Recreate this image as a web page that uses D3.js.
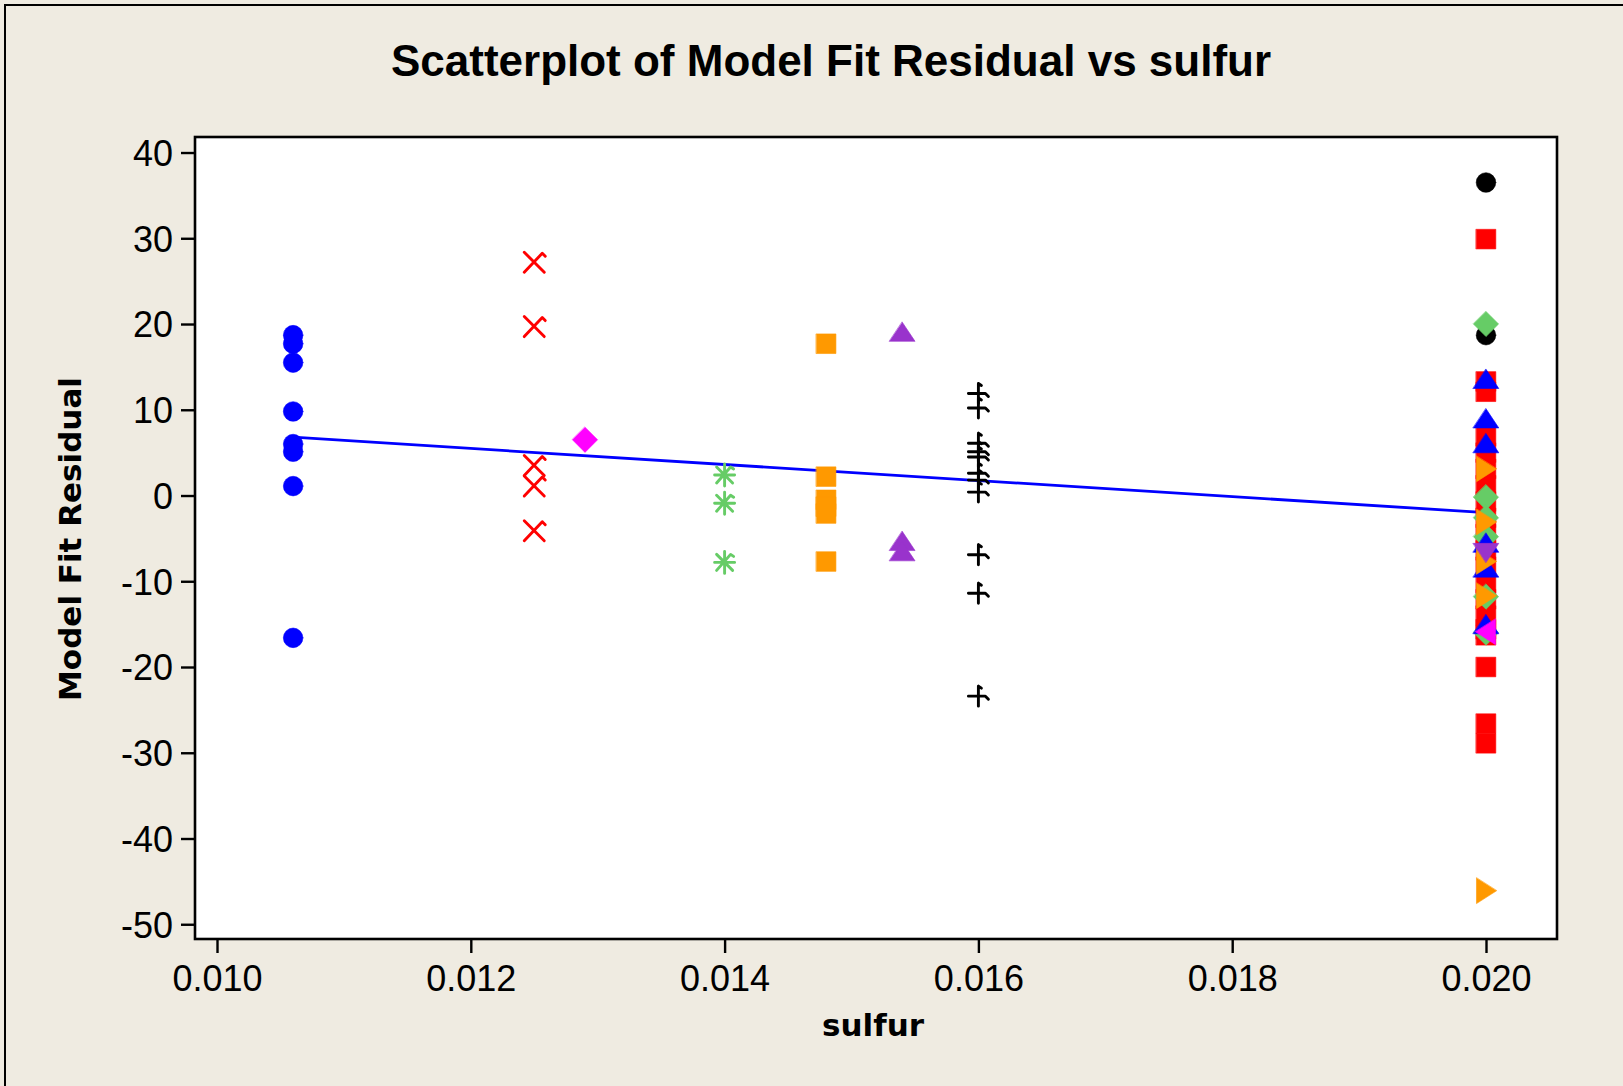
<!DOCTYPE html>
<html>
<head>
<meta charset="utf-8">
<script src="https://cdn.jsdelivr.net/npm/d3@7"></script>
<style>
  html, body { margin: 0; padding: 0; background: #EFEBE1; }
  svg { display: block; }
</style>
</head>
<body>
<svg id="chart" width="1623" height="1086"></svg>
<script>
// ---- data -------------------------------------------------------------
const xTicks = [0.010, 0.012, 0.014, 0.016, 0.018, 0.020];
const yTicks = [40, 30, 20, 10, 0, -10, -20, -30, -40, -50];

// one entry per plotted group: sulfur level, symbol, colour
const groupSulfur = [0.0106, 0.0125, 0.0129, 0.0140, 0.0148, 0.0154, 0.0160,
                     0.0200, 0.0200, 0.0200, 0.0200, 0.0200, 0.0200, 0.0200];
const groupSymbol = ["circle", "cross", "diamond", "asterisk", "square", "triangleUp", "plus",
                     "circle", "square", "diamond", "triangleUp", "triangleRight", "triangleDown", "triangleLeft"];
const groupColor  = ["#0000FF", "#FF0000", "#FF00FF", "#66CC66", "#FF9900", "#9933CC", "#000000",
                     "#000000", "#FF0000", "#66CC66", "#0000FF", "#FF9900", "#9933CC", "#FF00FF"];

// residuals per group
const resBlueCircle     = [18.7, 17.7, 15.5, 9.8, 6.0, 5.1, 1.1, -16.6];
const resRedCross       = [27.2, 19.7, 3.5, 1.1, -4.1];
const resMagentaDiamond = [6.5];
const resGreenAsterisk  = [2.4, -0.9, -7.8];
const resOrangeSquare   = [17.7, 2.2, -0.5, -1.3, -2.1, -7.7];
const resPurpleTriangle = [19.1, -5.3, -6.5];
const resBlackPlus      = [11.9, 10.2, 6.1, 5.1, 4.5, 2.6, 1.8, 0.4, -6.9, -11.4, -23.4];
const resBlackCircle    = [36.5, 18.7];
const resRedSquare      = [29.9, 13.3, 12.1, 6.9, 5.0, 3.1, 1.2, -0.7, -2.6, -4.5, -6.4,
                           -8.3, -10.2, -12.1, -14.0, -15.6, -16.3, -20.0, -26.6, -28.9];
const resGreenDiamond   = [20.0, -0.2, -2.6, -4.8, -11.8, -16.0];
const resBlueTriangle   = [13.6, 9.0, 6.1, -5.5, -8.4, -15.0];
const resOrangeRight    = [3.1, -3.1, -7.7, -11.7, -46.1];
const resPurpleDown     = [-6.7];
const resMagentaLeft    = [-15.9];

const groupResiduals = [resBlueCircle, resRedCross, resMagentaDiamond, resGreenAsterisk,
                        resOrangeSquare, resPurpleTriangle, resBlackPlus, resBlackCircle,
                        resRedSquare, resGreenDiamond, resBlueTriangle, resOrangeRight,
                        resPurpleDown, resMagentaLeft];

// fitted line of residual on sulfur
const fitSulfur   = [0.0106, 0.0200];
const fitResidual = [6.8, -2.0];

// ---- layout -----------------------------------------------------------
const W = 1623, H = 1086;
const plot = { left: 195, right: 1557, top: 137, bottom: 939 };

const x = d3.scaleLinear().domain([0.0098266, 0.0205595]).range([plot.left, plot.right]);
const y = d3.scaleLinear().domain([-51.72, 41.81]).range([plot.bottom, plot.top]);

const svg = d3.select("#chart");

// page background with thin border
svg.append("rect").attr("x", 0).attr("y", 0).attr("width", W).attr("height", H).attr("fill", "#EFEBE1");
svg.append("rect").attr("x", 5).attr("y", 5).attr("width", W + 50).attr("height", H + 50)
  .attr("fill", "#EFEBE1").attr("stroke", "#000").attr("stroke-width", 2);

// plot area
svg.append("rect")
  .attr("x", plot.left).attr("y", plot.top)
  .attr("width", plot.right - plot.left).attr("height", plot.bottom - plot.top)
  .attr("fill", "#FFFFFF");

// ---- symbols ----------------------------------------------------------
function symbolPath(kind) {
  switch (kind) {
    case "circle": {
      const r = 9.8;
      return `M${r},0A${r},${r} 0 1,1 ${-r},0A${r},${r} 0 1,1 ${r},0Z`;
    }
    case "square": { const s = 9.8; return `M${-s},${-s}H${s}V${s}H${-s}Z`; }
    case "diamond": { const d = 12.6; return `M0,${-d}L${d},0L0,${d}L${-d},0Z`; }
    case "triangleUp": return "M0,-9.6L12.8,9.6L-12.8,9.6Z";
    case "triangleDown": return "M0,9.6L12.8,-9.6L-12.8,-9.6Z";
    case "triangleRight": return "M10.5,0L-9.5,12.8L-9.5,-12.8Z";
    case "triangleLeft": return "M-10.5,0L9.5,12.8L9.5,-12.8Z";
    case "cross": return "M-10,-10L10,10M-10,10L8,-9L11,-6";
    case "asterisk": return "M-10,0H10M-8,-8L8,8M-8,8L6,-8L9,-6M0,-11V11";
    case "plus": return "M0,-10L3,-8M0,-10V10M-10,0H7L10,3";
  }
}
const stroked = new Set(["cross", "asterisk", "plus"]);

// ---- fitted line (under the symbols) ----------------------------------
const fitLine = d3.line().x((d, i) => x(fitSulfur[i])).y(d => y(d));
svg.append("path")
  .attr("d", fitLine(fitResidual))
  .attr("fill", "none").attr("stroke", "#0000FF").attr("stroke-width", 2.8);

// ---- points -----------------------------------------------------------
groupResiduals.forEach((vals, gi) => {
  const kind = groupSymbol[gi];
  const col = groupColor[gi];
  const g = svg.append("g").attr("class", "group-" + gi);
  g.selectAll("path")
    .data(vals)
    .join("path")
    .attr("transform", d => `translate(${x(groupSulfur[gi])},${y(d)})`)
    .attr("d", symbolPath(kind))
    .attr("fill", stroked.has(kind) ? "none" : col)
    .attr("stroke", col)
    .attr("stroke-width", stroked.has(kind) ? 2.9 : 0.6)
    .attr("stroke-linejoin", "round")
    .attr("stroke-linecap", "round");
});

// plot frame
svg.append("rect")
  .attr("x", plot.left).attr("y", plot.top)
  .attr("width", plot.right - plot.left).attr("height", plot.bottom - plot.top)
  .attr("fill", "none").attr("stroke", "#000").attr("stroke-width", 2.6);

// ---- axes -------------------------------------------------------------
const xAxis = svg.append("g")
  .attr("transform", `translate(0,${plot.bottom})`)
  .call(d3.axisBottom(x).tickValues(xTicks).tickFormat(d3.format(".3f")).tickSize(14).tickPadding(12));
const yAxis = svg.append("g")
  .attr("transform", `translate(${plot.left},0)`)
  .call(d3.axisLeft(y).tickValues(yTicks).tickFormat(d => String(d)).tickSize(14).tickPadding(8));

[xAxis, yAxis].forEach(a => {
  a.select(".domain").remove();
  a.selectAll(".tick line").attr("stroke", "#000").attr("stroke-width", 2.4);
  a.selectAll(".tick text")
    .attr("fill", "#000")
    .style("font-family", "'Liberation Sans', Arial, sans-serif")
    .style("font-size", "36px");
});
yAxis.selectAll(".tick text").attr("dy", "0.36em");

// ---- titles -----------------------------------------------------------
svg.append("text")
  .attr("x", 831).attr("y", 76)
  .attr("text-anchor", "middle")
  .style("font-family", "'Liberation Sans', Arial, sans-serif")
  .style("font-weight", "bold").style("font-size", "44px")
  .text("Scatterplot of Model Fit Residual vs sulfur");

svg.append("text")
  .attr("x", 873).attr("y", 1036)
  .attr("text-anchor", "middle")
  .style("font-family", "'DejaVu Sans', sans-serif")
  .style("font-weight", "bold").style("font-size", "31px")
  .text("sulfur");

svg.append("text")
  .attr("transform", "translate(81,539) rotate(-90)")
  .attr("text-anchor", "middle")
  .style("font-family", "'DejaVu Sans', sans-serif")
  .style("font-weight", "bold").style("font-size", "31px")
  .text("Model Fit Residual");
</script>
</body>
</html>
